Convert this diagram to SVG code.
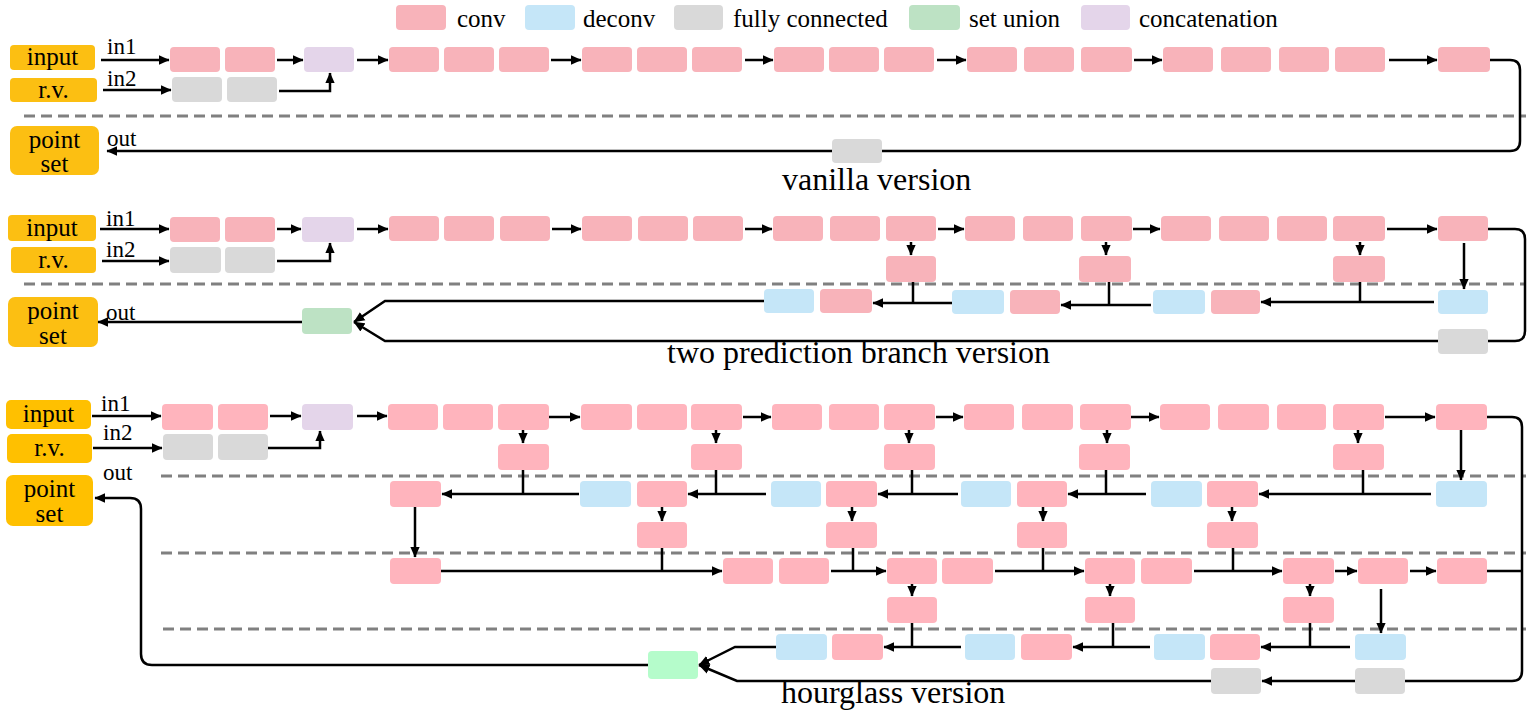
<svg xmlns="http://www.w3.org/2000/svg" width="1530" height="716" viewBox="0 0 1530 716">
<style>
.c{fill:#F8B3BA}.c3{fill:#FFB4BD}.d{fill:#C5E6F8}.f{fill:#D9D9D9}.u{fill:#BDE2C4}.u3{fill:#B5FCCB}.k{fill:#E4D5EA}.y{fill:#FCBF12}.y3{fill:#FFC000}
text{font-family:"Liberation Serif","Times New Roman",serif;fill:#000}
.lg{font-size:25px}.io{font-size:25px;text-anchor:middle}.lb{font-size:23px}.ti{font-size:32px}
.ln{fill:none;stroke:#000;stroke-width:2.5}
.ar{marker-end:url(#a)}
.ds{fill:none;stroke:#808080;stroke-width:3;stroke-dasharray:11 6}
</style>
<defs>
<marker id="a" viewBox="0 0 10 10" refX="9.5" refY="5" markerWidth="11" markerHeight="11" orient="auto" markerUnits="userSpaceOnUse"><path d="M0,0.6 L10,5 L0,9.4z" fill="#000"/></marker>
</defs>

<g id="legend">
<rect class="c" x="396" y="5" width="50" height="25" rx="4"/><text class="lg" x="457" y="27">conv</text>
<rect class="d" x="525" y="5" width="50" height="25" rx="4"/><text class="lg" x="583" y="27">deconv</text>
<rect class="f" x="674" y="5" width="49" height="25" rx="4"/><text class="lg" x="733" y="27">fully connected</text>
<rect class="u" x="909" y="5" width="51" height="25" rx="4"/><text class="lg" x="969" y="27">set union</text>
<rect class="k" x="1081" y="5" width="49" height="25" rx="4"/><text class="lg" x="1139" y="27">concatenation</text>
</g>

<!-- ===== Section 1: vanilla ===== -->
<g id="s1-dash"><path class="ds" d="M24 116 H1526"/></g>
<g id="s1-input"><rect class="y" x="10" y="45" width="85" height="25" rx="4"/><text class="io" x="52.5" y="65">input</text></g>
<g id="s1-rv"><rect class="y" x="10" y="78" width="87" height="24" rx="4"/><text class="io" x="53.5" y="98">r.v.</text></g>
<g id="s1-pointset"><rect class="y" x="10" y="126" width="89" height="49" rx="7"/><text class="io" x="54.5" y="148">point</text><text class="io" x="54.5" y="172">set</text></g>
<g id="s1-c1"><rect class="c" x="170" y="47" width="50" height="25" rx="4"/></g>
<g id="s1-c2"><rect class="c" x="225" y="47" width="50" height="25" rx="4"/></g>
<g id="s1-f1"><rect class="f" x="172" y="77" width="50" height="25" rx="4"/></g>
<g id="s1-f2"><rect class="f" x="227" y="77" width="50" height="25" rx="4"/></g>
<g id="s1-cat"><rect class="k" x="304" y="47" width="50" height="25" rx="4"/></g>
<g id="s1-c3"><rect class="c" x="389" y="47" width="50" height="25" rx="4"/></g>
<g id="s1-c4"><rect class="c" x="444" y="47" width="50" height="25" rx="4"/></g>
<g id="s1-c5"><rect class="c" x="499" y="47" width="50" height="25" rx="4"/></g>
<g id="s1-c6"><rect class="c" x="582" y="47" width="50" height="25" rx="4"/></g>
<g id="s1-c7"><rect class="c" x="637" y="47" width="50" height="25" rx="4"/></g>
<g id="s1-c8"><rect class="c" x="692" y="47" width="50" height="25" rx="4"/></g>
<g id="s1-c9"><rect class="c" x="774" y="47" width="50" height="25" rx="4"/></g>
<g id="s1-c10"><rect class="c" x="829" y="47" width="50" height="25" rx="4"/></g>
<g id="s1-c11"><rect class="c" x="884" y="47" width="50" height="25" rx="4"/></g>
<g id="s1-c12"><rect class="c" x="967" y="47" width="50" height="25" rx="4"/></g>
<g id="s1-c13"><rect class="c" x="1024" y="47" width="50" height="25" rx="4"/></g>
<g id="s1-c14"><rect class="c" x="1081" y="47" width="51" height="25" rx="4"/></g>
<g id="s1-c15"><rect class="c" x="1163" y="47" width="50" height="25" rx="4"/></g>
<g id="s1-c16"><rect class="c" x="1221" y="47" width="50" height="25" rx="4"/></g>
<g id="s1-c17"><rect class="c" x="1279" y="47" width="50" height="25" rx="4"/></g>
<g id="s1-c18"><rect class="c" x="1335" y="47" width="50" height="25" rx="4"/></g>
<g id="s1-c19"><rect class="c" x="1438" y="47" width="52" height="25" rx="4"/></g>
<g id="s1-fout"><rect class="f" x="832" y="139" width="50" height="24" rx="4"/></g>
<g id="s1-labels"><text class="lb" x="107" y="54">in1</text><text class="lb" x="107" y="86">in2</text><text class="lb" x="107" y="146">out</text></g>
<g id="s1-title"><text class="ti" x="782" y="190">vanilla version</text></g>
<g id="s1-connectors">
<path class="ln ar" d="M101 60 H169"/>
<path class="ln ar" d="M103 90 H171"/>
<path class="ln ar" d="M277 60 H303"/>
<path class="ln ar" d="M279 91 H330 V73"/>
<path class="ln ar" d="M357 60 H388"/>
<path class="ln ar" d="M551 60 H581"/>
<path class="ln ar" d="M745 60 H773"/>
<path class="ln ar" d="M937 60 H966"/>
<path class="ln ar" d="M1134 60 H1162"/>
<path class="ln ar" d="M1389 60 H1437"/>
<path class="ln" d="M1490 60 H1510 Q1520 60 1520 70 V141 Q1520 151 1510 151 H882"/>
<path class="ln ar" d="M832 151 H107"/>
</g>

<!-- ===== Section 2: two prediction branch ===== -->
<g id="s2-dash"><path class="ds" d="M24 284 H1526"/></g>
<g id="s2-input"><rect class="y" x="8" y="215" width="88" height="26" rx="4"/><text class="io" x="52" y="236">input</text></g>
<g id="s2-rv"><rect class="y" x="11" y="247" width="85" height="26" rx="4"/><text class="io" x="53.5" y="268">r.v.</text></g>
<g id="s2-pointset"><rect class="y" x="8" y="297" width="90" height="50" rx="7"/><text class="io" x="53" y="319">point</text><text class="io" x="53" y="344">set</text></g>
<g id="s2-c1"><rect class="c" x="170" y="217" width="50" height="25" rx="4"/></g>
<g id="s2-c2"><rect class="c" x="225" y="217" width="50" height="25" rx="4"/></g>
<g id="s2-f1"><rect class="f" x="170" y="247" width="51" height="26" rx="4"/></g>
<g id="s2-f2"><rect class="f" x="225" y="247" width="50" height="26" rx="4"/></g>
<g id="s2-cat"><rect class="k" x="302" y="217" width="52" height="25" rx="4"/></g>
<g id="s2-c3"><rect class="c" x="389" y="216" width="50" height="25" rx="4"/></g>
<g id="s2-c4"><rect class="c" x="444" y="216" width="50" height="25" rx="4"/></g>
<g id="s2-c5"><rect class="c" x="500" y="216" width="50" height="25" rx="4"/></g>
<g id="s2-c6"><rect class="c" x="582" y="216" width="50" height="25" rx="4"/></g>
<g id="s2-c7"><rect class="c" x="638" y="216" width="50" height="25" rx="4"/></g>
<g id="s2-c8"><rect class="c" x="693" y="216" width="50" height="25" rx="4"/></g>
<g id="s2-c9"><rect class="c" x="773" y="216" width="50" height="25" rx="4"/></g>
<g id="s2-c10"><rect class="c" x="830" y="216" width="50" height="25" rx="4"/></g>
<g id="s2-c11"><rect class="c" x="886" y="216" width="50" height="25" rx="4"/></g>
<g id="s2-c12"><rect class="c" x="965" y="216" width="50" height="25" rx="4"/></g>
<g id="s2-c13"><rect class="c" x="1023" y="216" width="50" height="25" rx="4"/></g>
<g id="s2-c14"><rect class="c" x="1081" y="216" width="51" height="25" rx="4"/></g>
<g id="s2-c15"><rect class="c" x="1161" y="216" width="50" height="25" rx="4"/></g>
<g id="s2-c16"><rect class="c" x="1219" y="216" width="50" height="25" rx="4"/></g>
<g id="s2-c17"><rect class="c" x="1277" y="216" width="50" height="25" rx="4"/></g>
<g id="s2-c18"><rect class="c" x="1333" y="216" width="52" height="25" rx="4"/></g>
<g id="s2-c19"><rect class="c" x="1438" y="216" width="50" height="25" rx="4"/></g>
<g id="s2-b1"><rect class="c" x="886" y="256" width="50" height="26" rx="4"/></g>
<g id="s2-b2"><rect class="c" x="1079" y="256" width="52" height="26" rx="4"/></g>
<g id="s2-b3"><rect class="c" x="1333" y="256" width="52" height="26" rx="4"/></g>
<g id="s2-d1"><rect class="d" x="764" y="289" width="50" height="24" rx="4"/></g>
<g id="s2-p1"><rect class="c" x="820" y="289" width="52" height="24" rx="4"/></g>
<g id="s2-d2"><rect class="d" x="952" y="290" width="52" height="24" rx="4"/></g>
<g id="s2-p2"><rect class="c" x="1010" y="290" width="50" height="24" rx="4"/></g>
<g id="s2-d3"><rect class="d" x="1153" y="290" width="52" height="24" rx="4"/></g>
<g id="s2-p3"><rect class="c" x="1211" y="290" width="49" height="24" rx="4"/></g>
<g id="s2-d4"><rect class="d" x="1438" y="290" width="50" height="24" rx="4"/></g>
<g id="s2-fout"><rect class="f" x="1438" y="329" width="50" height="25" rx="4"/></g>
<g id="s2-union"><rect class="u" x="302" y="308" width="50" height="26" rx="4"/></g>
<g id="s2-labels"><text class="lb" x="106" y="226">in1</text><text class="lb" x="106" y="257">in2</text><text class="lb" x="106" y="320">out</text></g>
<g id="s2-title"><text class="ti" x="667" y="363">two prediction branch version</text></g>
<g id="s2-connectors">
<path class="ln ar" d="M100 229 H169"/>
<path class="ln ar" d="M102 261 H169"/>
<path class="ln ar" d="M277 229 H301"/>
<path class="ln ar" d="M277 261 H330 V243"/>
<path class="ln ar" d="M357 229 H388"/>
<path class="ln ar" d="M552 229 H581"/>
<path class="ln ar" d="M745 229 H772"/>
<path class="ln ar" d="M938 229 H964"/>
<path class="ln ar" d="M1133 229 H1160"/>
<path class="ln ar" d="M1387 229 H1437"/>
<path class="ln ar" d="M911 242 V255"/>
<path class="ln ar" d="M1106 242 V255"/>
<path class="ln ar" d="M1360 242 V255"/>
<path class="ln ar" d="M1464 243 V289"/>
<path class="ln ar" d="M952 303 H873"/>
<path class="ln" d="M913 282 V303"/>
<path class="ln ar" d="M1151 305 H1061"/>
<path class="ln" d="M1109 282 V305"/>
<path class="ln ar" d="M1434 302 H1261"/>
<path class="ln" d="M1360 282 V302"/>
<path class="ln ar" d="M764 301 H385 L354 322"/>
<path class="ln ar" d="M1438 341 H385 L354 322"/>
<path class="ln" d="M1488 229 H1515 Q1525 229 1525 239 V331 Q1525 341 1515 341 H1488"/>
<path class="ln ar" d="M302 322 H98"/>
</g>

<!-- ===== Section 3: hourglass ===== -->
<g id="s3-dash"><path class="ds" d="M161 476 H1526"/><path class="ds" d="M161 553 H1526"/><path class="ds" d="M163 629 H1526"/></g>
<g id="s3-input"><rect class="y3" x="6" y="400" width="85" height="29" rx="5"/><text class="io" x="48.5" y="422">input</text></g>
<g id="s3-rv"><rect class="y3" x="7" y="434" width="85" height="29" rx="5"/><text class="io" x="49.5" y="456">r.v.</text></g>
<g id="s3-pointset"><rect class="y3" x="6" y="475" width="87" height="51" rx="7"/><text class="io" x="49.5" y="497">point</text><text class="io" x="49.5" y="522">set</text></g>
<g id="s3-c1"><rect class="c3" x="162" y="404" width="51" height="26" rx="4"/></g>
<g id="s3-c2"><rect class="c3" x="218" y="404" width="50" height="26" rx="4"/></g>
<g id="s3-f1"><rect class="f" x="163" y="434" width="50" height="26" rx="4"/></g>
<g id="s3-f2"><rect class="f" x="218" y="434" width="50" height="26" rx="4"/></g>
<g id="s3-cat"><rect class="k" x="302" y="404" width="51" height="26" rx="4"/></g>
<g id="s3-c3"><rect class="c3" x="388" y="404" width="50" height="26" rx="4"/></g>
<g id="s3-c4"><rect class="c3" x="443" y="404" width="50" height="26" rx="4"/></g>
<g id="s3-c5"><rect class="c3" x="498" y="404" width="51" height="26" rx="4"/></g>
<g id="s3-c6"><rect class="c3" x="581" y="404" width="51" height="26" rx="4"/></g>
<g id="s3-c7"><rect class="c3" x="637" y="404" width="50" height="26" rx="4"/></g>
<g id="s3-c8"><rect class="c3" x="691" y="404" width="51" height="26" rx="4"/></g>
<g id="s3-c9"><rect class="c3" x="772" y="404" width="50" height="26" rx="4"/></g>
<g id="s3-c10"><rect class="c3" x="829" y="404" width="50" height="26" rx="4"/></g>
<g id="s3-c11"><rect class="c3" x="884" y="404" width="51" height="26" rx="4"/></g>
<g id="s3-c12"><rect class="c3" x="964" y="404" width="50" height="26" rx="4"/></g>
<g id="s3-c13"><rect class="c3" x="1022" y="404" width="51" height="26" rx="4"/></g>
<g id="s3-c14"><rect class="c3" x="1080" y="404" width="51" height="26" rx="4"/></g>
<g id="s3-c15"><rect class="c3" x="1160" y="404" width="50" height="26" rx="4"/></g>
<g id="s3-c16"><rect class="c3" x="1218" y="404" width="51" height="26" rx="4"/></g>
<g id="s3-c17"><rect class="c3" x="1277" y="404" width="49" height="26" rx="4"/></g>
<g id="s3-c18"><rect class="c3" x="1333" y="404" width="51" height="26" rx="4"/></g>
<g id="s3-c19"><rect class="c3" x="1436" y="404" width="51" height="26" rx="4"/></g>
<g id="s3-b1"><rect class="c3" x="498" y="444" width="51" height="26" rx="4"/></g>
<g id="s3-b2"><rect class="c3" x="691" y="444" width="51" height="26" rx="4"/></g>
<g id="s3-b3"><rect class="c3" x="884" y="444" width="51" height="26" rx="4"/></g>
<g id="s3-b4"><rect class="c3" x="1079" y="444" width="51" height="26" rx="4"/></g>
<g id="s3-b5"><rect class="c3" x="1333" y="444" width="51" height="26" rx="4"/></g>
<g id="s3-r2p1"><rect class="c3" x="390" y="481" width="51" height="26" rx="4"/></g>
<g id="s3-r2d1"><rect class="d" x="580" y="481" width="51" height="26" rx="4"/></g>
<g id="s3-r2p2"><rect class="c3" x="637" y="481" width="50" height="26" rx="4"/></g>
<g id="s3-r2d2"><rect class="d" x="771" y="481" width="50" height="26" rx="4"/></g>
<g id="s3-r2p3"><rect class="c3" x="826" y="481" width="51" height="26" rx="4"/></g>
<g id="s3-r2d3"><rect class="d" x="961" y="481" width="50" height="26" rx="4"/></g>
<g id="s3-r2p4"><rect class="c3" x="1017" y="481" width="50" height="26" rx="4"/></g>
<g id="s3-r2d4"><rect class="d" x="1151" y="481" width="51" height="26" rx="4"/></g>
<g id="s3-r2p5"><rect class="c3" x="1207" y="481" width="51" height="26" rx="4"/></g>
<g id="s3-r2d5"><rect class="d" x="1436" y="481" width="51" height="26" rx="4"/></g>
<g id="s3-b6"><rect class="c3" x="637" y="522" width="50" height="26" rx="4"/></g>
<g id="s3-b7"><rect class="c3" x="826" y="522" width="51" height="26" rx="4"/></g>
<g id="s3-b8"><rect class="c3" x="1017" y="522" width="50" height="26" rx="4"/></g>
<g id="s3-b9"><rect class="c3" x="1207" y="522" width="51" height="26" rx="4"/></g>
<g id="s3-r3p1"><rect class="c3" x="390" y="558" width="51" height="26" rx="4"/></g>
<g id="s3-r3p2"><rect class="c3" x="723" y="558" width="50" height="26" rx="4"/></g>
<g id="s3-r3p3"><rect class="c3" x="779" y="558" width="50" height="26" rx="4"/></g>
<g id="s3-r3p4"><rect class="c3" x="887" y="558" width="50" height="26" rx="4"/></g>
<g id="s3-r3p5"><rect class="c3" x="942" y="558" width="51" height="26" rx="4"/></g>
<g id="s3-r3p6"><rect class="c3" x="1085" y="558" width="50" height="26" rx="4"/></g>
<g id="s3-r3p7"><rect class="c3" x="1141" y="558" width="51" height="26" rx="4"/></g>
<g id="s3-r3p8"><rect class="c3" x="1283" y="558" width="51" height="26" rx="4"/></g>
<g id="s3-r3p9"><rect class="c3" x="1358" y="558" width="50" height="26" rx="4"/></g>
<g id="s3-r3p10"><rect class="c3" x="1437" y="558" width="50" height="26" rx="4"/></g>
<g id="s3-b10"><rect class="c3" x="887" y="597" width="50" height="26" rx="4"/></g>
<g id="s3-b11"><rect class="c3" x="1085" y="597" width="50" height="26" rx="4"/></g>
<g id="s3-b12"><rect class="c3" x="1283" y="597" width="51" height="26" rx="4"/></g>
<g id="s3-r4d1"><rect class="d" x="776" y="634" width="51" height="26" rx="4"/></g>
<g id="s3-r4p1"><rect class="c3" x="832" y="634" width="51" height="26" rx="4"/></g>
<g id="s3-r4d2"><rect class="d" x="965" y="634" width="50" height="26" rx="4"/></g>
<g id="s3-r4p2"><rect class="c3" x="1021" y="634" width="51" height="26" rx="4"/></g>
<g id="s3-r4d3"><rect class="d" x="1154" y="634" width="51" height="26" rx="4"/></g>
<g id="s3-r4p3"><rect class="c3" x="1210" y="634" width="50" height="26" rx="4"/></g>
<g id="s3-r4d4"><rect class="d" x="1355" y="634" width="51" height="26" rx="4"/></g>
<g id="s3-f3"><rect class="f" x="1211" y="668" width="50" height="26" rx="4"/></g>
<g id="s3-f4"><rect class="f" x="1355" y="668" width="50" height="26" rx="4"/></g>
<g id="s3-union"><rect class="u3" x="648" y="651" width="50" height="28" rx="4"/></g>
<g id="s3-labels"><text class="lb" x="101" y="411">in1</text><text class="lb" x="103" y="440">in2</text><text class="lb" x="103" y="480">out</text></g>
<g id="s3-title"><text class="ti" x="781" y="703">hourglass version</text></g>
<g id="s3-connectors">
<path class="ln ar" d="M92 416 H161"/>
<path class="ln ar" d="M93 448 H162"/>
<path class="ln ar" d="M270 416 H301"/>
<path class="ln ar" d="M268 448 H320 V431"/>
<path class="ln ar" d="M357 416 H387"/>
<path class="ln ar" d="M549 417 H580"/>
<path class="ln ar" d="M743 417 H771"/>
<path class="ln ar" d="M936 417 H963"/>
<path class="ln ar" d="M1131 417 H1159"/>
<path class="ln ar" d="M1385 417 H1435"/>
<path class="ln ar" d="M523 430 V443"/>
<path class="ln ar" d="M716 430 V443"/>
<path class="ln ar" d="M909 430 V443"/>
<path class="ln ar" d="M1107 430 V443"/>
<path class="ln ar" d="M1358 430 V443"/>
<path class="ln ar" d="M1461 430 V480"/>
<path class="ln" d="M523 470 V494"/>
<path class="ln ar" d="M579 494 H442"/>
<path class="ln" d="M716 470 V494"/>
<path class="ln ar" d="M766 494 H688"/>
<path class="ln" d="M912 470 V494"/>
<path class="ln ar" d="M958 494 H878"/>
<path class="ln" d="M1106 470 V494"/>
<path class="ln ar" d="M1146 494 H1068"/>
<path class="ln" d="M1363 470 V494"/>
<path class="ln ar" d="M1431 494 H1259"/>
<path class="ln ar" d="M662 507 V521"/>
<path class="ln ar" d="M852 507 V521"/>
<path class="ln ar" d="M1043 507 V521"/>
<path class="ln ar" d="M1232 507 V521"/>
<path class="ln ar" d="M415 507 V557"/>
<path class="ln ar" d="M441 571 H722"/>
<path class="ln" d="M662 548 V571"/>
<path class="ln ar" d="M831 571 H886"/>
<path class="ln" d="M853 548 V571"/>
<path class="ln ar" d="M995 571 H1084"/>
<path class="ln" d="M1043 548 V571"/>
<path class="ln ar" d="M1194 571 H1282"/>
<path class="ln" d="M1233 548 V571"/>
<path class="ln ar" d="M1335 571 H1357"/>
<path class="ln ar" d="M1410 571 H1436"/>
<path class="ln" d="M1487 571 H1522"/>
<path class="ln ar" d="M912 584 V596"/>
<path class="ln ar" d="M1110 584 V596"/>
<path class="ln ar" d="M1310 584 V596"/>
<path class="ln ar" d="M1381 589 V633"/>
<path class="ln" d="M912 623 V647"/>
<path class="ln ar" d="M961 647 H884"/>
<path class="ln" d="M1113 623 V647"/>
<path class="ln ar" d="M1150 647 H1073"/>
<path class="ln" d="M1310 623 V647"/>
<path class="ln ar" d="M1350 647 H1261"/>
<path class="ln ar" d="M1355 681 H1262"/>
<path class="ln" d="M1487 417 H1512 Q1522 417 1522 427 V671 Q1522 681 1512 681 H1405"/>
<path class="ln ar" d="M776 647 H735 L699 665"/>
<path class="ln ar" d="M1211 681 H737 L699 665"/>
<path class="ln ar" d="M648 665 H152 Q141 665 141 654 V509 Q141 498 130 498 H95"/>
</g>
</svg>
